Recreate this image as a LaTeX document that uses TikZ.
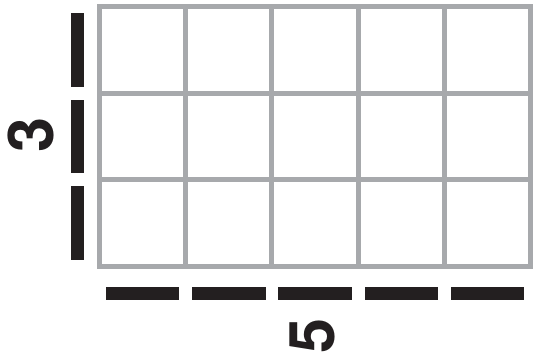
\documentclass[tikz,border=0pt]{standalone}
\usepackage{fontspec}
\setmainfont{TeX Gyre Heros}
\usepackage{tikz}
\usetikzlibrary{positioning}
\definecolor{gridc}{RGB}{167,169,172}
\definecolor{barc}{RGB}{35,31,32}

\begin{document}
\begin{tikzpicture}[x=1pt,y=-1pt,font=\bfseries\fontsize{63}{63}\selectfont]
  \useasboundingbox (0,0) rectangle (533,360);
  % ---- grid of 5 x 3 squares ----
  \foreach \i in {1,...,4}{
      \draw[gridc,line width=5pt] (99.5+86.2*\i,6.5) -- (99.5+86.2*\i,266);}
  \foreach \j in {1,2}{
      \draw[gridc,line width=5pt] (99.5,6.5+86.5*\j) -- (530.5,6.5+86.5*\j);}
  \draw[gridc,line width=5pt] (99.5,6.5) rectangle (530.5,266);
  % ---- row bars ----
  \foreach \j in {0,1,2}{
      \fill[barc] (71,13+86.5*\j) rectangle (84.3,86.5+86.5*\j);}
  % ---- column bars ----
  \foreach \i in {0,...,4}{
      \fill[barc] (105.9+86.2*\i,286.7) rectangle (179.3+86.2*\i,300);}
  % ---- counts ----
  \node[rotate=90,text=barc] (rows) at (31,135) {3};
  \node[rotate=90,text=barc] (cols) at (312,336) {5};
\end{tikzpicture}
\end{document}
